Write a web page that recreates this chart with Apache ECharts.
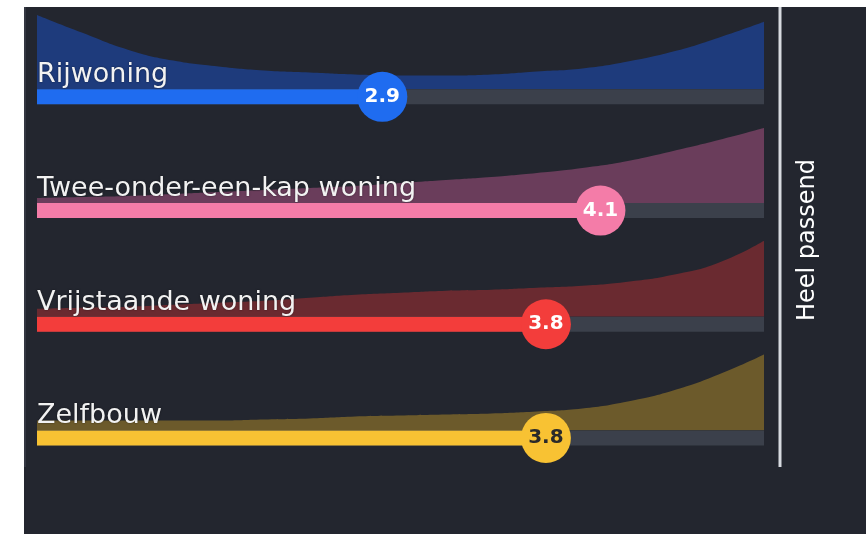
<!DOCTYPE html>
<html>
<head>
<meta charset="utf-8">
<script src="https://cdn.jsdelivr.net/npm/echarts@6/dist/echarts.min.js"></script>
<style>
  html, body { margin: 0; padding: 0; background: #fff; }
  #chart { width: 866px; height: 534px; }
</style>
</head>
<body>
<div id="chart"></div>
<script>
// data
const categories = ['Rijwoning', 'Twee-onder-een-kap woning', 'Vrijstaande woning', 'Zelfbouw']
const scores = [2.9, 4.1, 3.8, 3.8]
// answer scale 1..5 and the spread of answers (relative height of the area)
const densityX = [1, 1.25, 1.5, 1.75, 2, 2.25, 2.5, 2.75, 3, 3.25, 3.5, 3.75, 4, 4.25, 4.5, 4.75, 5]
const rijwoningDensity = [75, 57, 40, 29, 23, 19, 17, 15, 14, 14, 15, 18, 21, 28, 38, 52, 68]
const tweeOnderEenKapDensity = [5, 6, 7, 9, 11, 13, 15, 17, 20, 23, 26, 30, 35, 42, 52, 63, 75]
const vrijstaandeDensity = [8, 9, 10, 12, 14, 16, 19, 22, 24, 26, 27, 29, 31, 35, 42, 54, 76]
const zelfbouwDensity = [10, 10, 10, 10, 10, 11, 12, 14, 15, 16, 17, 19, 22, 29, 40, 56, 76]
const scaleMin = 1
const scaleMax = 5
const axisName = 'Heel passend'

const densities = [rijwoningDensity, tweeOnderEenKapDensity, vrijstaandeDensity, zelfbouwDensity]
const barColors = ['#1f6cf0', '#f47ca8', '#f33d3b', '#f8c233']
const areaColors = ['#1e3b7c', '#6a3d5b', '#6a2a30', '#6c5a2b']
const trackColor = '#3b404b'
const fontFamily = '"DejaVu Sans", sans-serif'

// layout
const PLOT_LEFT = 37
const PLOT_RIGHT = 102
const ROW_TOP = 40
const ROW_H = 113.7
const BAR_W = 15
const AREA_H = 90

const grids = []
const xAxes = []
const yAxes = []
const series = []

densities.forEach((d, i) => {
  const center = ROW_TOP + ROW_H * (i + 0.5)
  grids.push({ left: PLOT_LEFT, right: PLOT_RIGHT, top: center - BAR_W / 2 - AREA_H, height: AREA_H })
  xAxes.push({ type: 'value', gridIndex: i, min: scaleMin, max: scaleMax, show: false })
  yAxes.push({ type: 'value', gridIndex: i, min: 0, max: AREA_H, show: false })
  series.push({
    type: 'line',
    xAxisIndex: i,
    yAxisIndex: i,
    data: densityX.map((x, j) => [x, d[j]]),
    smooth: 0.5,
    symbol: 'none',
    silent: true,
    lineStyle: { width: 0 },
    areaStyle: { color: areaColors[i], opacity: 1 },
    z: 1
  })
})

// the tracks with the mean score
grids.push({ left: PLOT_LEFT, right: PLOT_RIGHT, top: ROW_TOP, height: ROW_H * 4 })
xAxes.push({ type: 'value', gridIndex: 4, min: scaleMin, max: scaleMax, show: false })
yAxes.push({
  type: 'category',
  gridIndex: 4,
  data: categories,
  inverse: true,
  z: 10,
  axisLine: { show: false },
  axisTick: { show: false },
  splitLine: { show: false },
  axisLabel: {
    inside: true,
    margin: 0,
    verticalAlign: 'bottom',
    padding: [0, 0, 8, 0],
    color: '#f2f2f2',
    fontSize: 27,
    fontFamily: fontFamily,
    textShadowColor: 'rgba(0,0,0,0.5)',
    textShadowBlur: 2
  }
})

series.push({
  type: 'bar',
  xAxisIndex: 4,
  yAxisIndex: 4,
  barWidth: BAR_W,
  clip: true,
  showBackground: true,
  backgroundStyle: { color: trackColor },
  data: scores.map((v, i) => ({ value: v, itemStyle: { color: barColors[i] } })),
  z: 3
})

series.push({
  type: 'scatter',
  xAxisIndex: 4,
  yAxisIndex: 4,
  symbolSize: 50,
  itemStyle: { opacity: 1 },
  data: scores.map((v, i) => ({
    value: [v, categories[i]],
    itemStyle: { color: barColors[i], opacity: 1 },
    label: { color: i === 3 ? '#2a2a2a' : '#ffffff' }
  })),
  label: {
    show: true,
    position: 'inside',
    fontSize: 20,
    fontWeight: 'bold',
    fontFamily: fontFamily,
    formatter: p => p.value[0].toFixed(1)
  },
  z: 4
})

const chart = echarts.init(document.getElementById('chart'))
chart.setOption({
  animation: false,
  backgroundColor: '#23262f',
  grid: grids,
  xAxis: xAxes,
  yAxis: yAxes,
  series: series,
  graphic: [
    { type: 'rect', shape: { x: 0, y: 0, width: 866, height: 7 }, style: { fill: '#ffffff' }, z: 100 },
    { type: 'rect', shape: { x: 0, y: 0, width: 24, height: 534 }, style: { fill: '#ffffff' }, z: 100 },
    { type: 'rect', shape: { x: 24, y: 7, width: 2, height: 460 }, style: { fill: '#343742' }, z: 100 },
    { type: 'line', shape: { x1: 780, y1: 7, x2: 780, y2: 467 }, style: { stroke: '#d7dae0', lineWidth: 3 }, z: 100 },
    {
      type: 'text',
      x: 808,
      y: 240,
      rotation: Math.PI / 2,
      style: {
        text: axisName,
        fill: '#ffffff',
        font: '24px ' + fontFamily,
        align: 'center',
        verticalAlign: 'middle',
        textAlign: 'center',
        textVerticalAlign: 'middle'
      },
      z: 100
    }
  ]
})
</script>
</body>
</html>
